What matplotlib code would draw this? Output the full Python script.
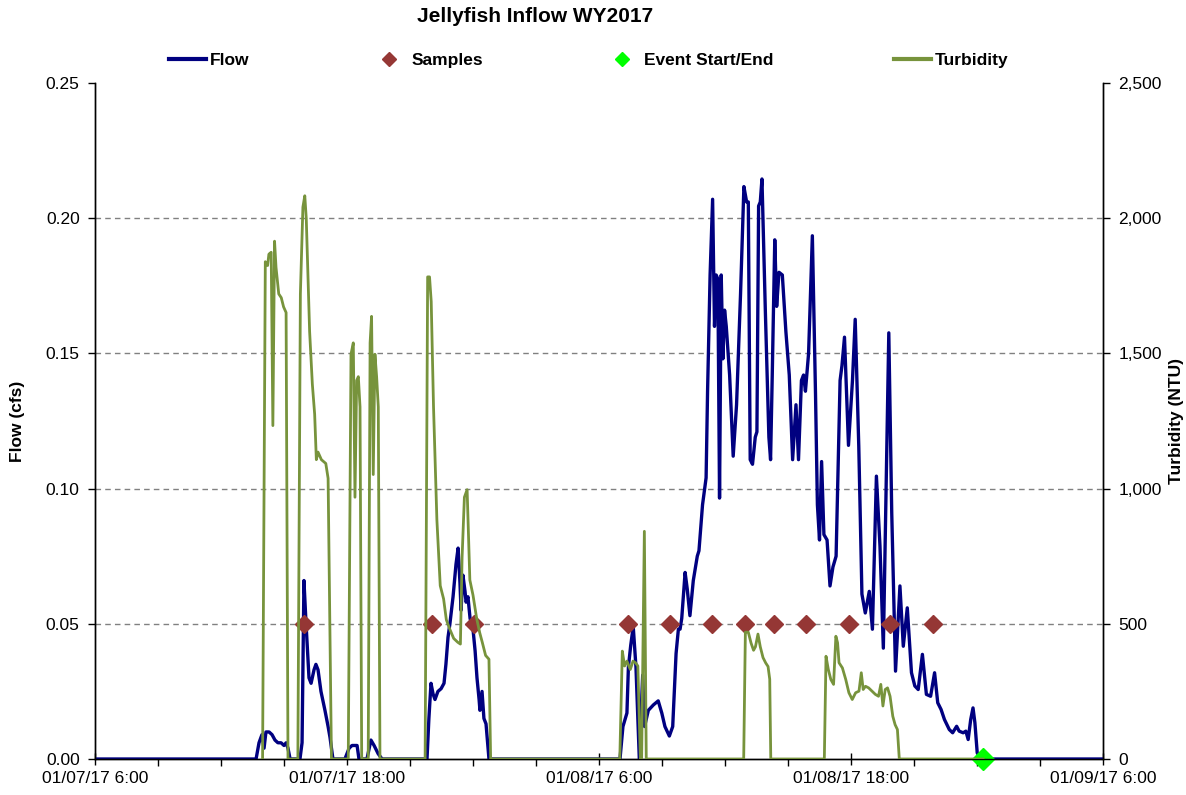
import datetime as dt
import numpy as np
import matplotlib
matplotlib.use("Agg")
import matplotlib.pyplot as plt
import matplotlib.dates as mdates
from matplotlib.lines import Line2D
from matplotlib.ticker import FuncFormatter

plt.rcParams['font.family'] = ['Liberation Sans', 'DejaVu Sans']

START = dt.datetime(2017, 1, 7, 6, 0)
END = dt.datetime(2017, 1, 9, 6, 0)

# ---- Flow (cfs): hours after 01/07/17 6:00 ----
flow_hours = [
    0.00, 7.67, 7.81, 7.95, 8.05, 8.14, 8.29, 8.43, 8.57, 8.71, 8.86, 9.00, 9.10, 9.19, 9.29,
    9.76, 9.86, 9.95, 10.05, 10.19, 10.29, 10.43, 10.52, 10.62, 10.76, 10.95, 11.10, 11.19, 11.33,
    11.90, 12.00, 12.10, 12.24, 12.48, 12.57, 12.95, 13.14, 13.29, 13.48, 13.67,
    15.81, 15.90, 16.00, 16.10, 16.19, 16.33, 16.48, 16.62, 16.71, 16.81, 16.90, 17.05, 17.19,
    17.29, 17.38, 17.43, 17.52, 17.62, 17.67, 17.76, 17.86, 18.00, 18.10, 18.19, 18.29, 18.33,
    18.43, 18.52, 18.62, 18.76,
    25.00, 25.14, 25.33, 25.40, 25.51, 25.63, 25.76, 25.92, 26.08, 26.17, 26.35, 26.59, 26.82,
    26.99, 27.14, 27.35, 27.51, 27.67, 27.78, 27.86, 27.94, 28.10, 28.20, 28.33, 28.49, 28.68,
    28.76, 28.93, 29.10, 29.17, 29.29, 29.41, 29.50, 29.58, 29.66, 29.74, 29.82, 29.90, 29.98,
    30.06, 30.22, 30.39, 30.55, 30.74, 30.90, 31.03, 31.11, 31.20, 31.31, 31.44, 31.52, 31.60,
    31.68, 31.76, 31.92, 32.09, 32.17, 32.25, 32.37, 32.46, 32.57, 32.73, 32.90, 33.06, 33.22,
    33.38, 33.50, 33.64, 33.74, 33.83, 33.98, 34.16, 34.31, 34.40, 34.50, 34.60, 34.71, 34.86,
    35.00, 35.14, 35.29, 35.48, 35.57, 35.69, 35.88, 36.07, 36.20, 36.37, 36.52, 36.68, 36.87,
    37.02, 37.21, 37.38, 37.54, 37.69, 37.80, 37.94, 38.12, 38.33, 38.49, 38.68, 38.88, 39.04,
    39.20, 39.40, 39.59, 39.79, 39.98, 40.13, 40.29, 40.45, 40.68, 40.84, 41.03, 41.15, 41.34,
    41.47, 41.58, 41.70, 41.81, 41.90, 42.01, 42.17, 48.00,
]
flow_cfs = [
    0, 0, 0.006, 0.009, 0.004, 0.010, 0.010, 0.009, 0.007, 0.006, 0.006, 0.005, 0.006, 0.004, 0,
    0, 0.006, 0.066, 0.050, 0.030, 0.028, 0.033, 0.035, 0.033, 0.025, 0.018, 0.012, 0.008, 0,
    0, 0.002, 0.004, 0.005, 0.005, 0, 0, 0.007, 0.005, 0.002, 0,
    0, 0.015, 0.028, 0.024, 0.022, 0.025, 0.026, 0.028, 0.035, 0.045, 0.050, 0.060, 0.072,
    0.078, 0.065, 0.055, 0.068, 0.062, 0.058, 0.060, 0.052, 0.048, 0.040, 0.030, 0.022, 0.018,
    0.025, 0.015, 0.013, 0,
    0, 0.012, 0.017, 0.034, 0.042, 0.049, 0.034, 0, 0.031, 0.012, 0.018, 0.020, 0.0215,
    0.017, 0.012, 0.0085, 0.012, 0.039, 0.048, 0.048, 0.052, 0.069, 0.063, 0.053, 0.066, 0.075,
    0.077, 0.094, 0.104, 0.136, 0.179, 0.207, 0.160, 0.179, 0.1775, 0.0965, 0.179, 0.148, 0.166,
    0.160, 0.142, 0.112, 0.131, 0.172, 0.2117, 0.206, 0.206, 0.1107, 0.109, 0.119, 0.121, 0.2045,
    0.206, 0.2145, 0.166, 0.119, 0.1107, 0.142, 0.192, 0.1674, 0.180, 0.179, 0.158, 0.142, 0.1107,
    0.131, 0.1107, 0.140, 0.142, 0.136, 0.150, 0.1935, 0.135, 0.094, 0.081, 0.110, 0.083, 0.081,
    0.064, 0.071, 0.075, 0.140, 0.1455, 0.156, 0.116, 0.140, 0.1626, 0.1157, 0.061, 0.054, 0.062,
    0.048, 0.1046, 0.0787, 0.041, 0.1096, 0.1576, 0.091, 0.0325, 0.064, 0.0417, 0.0559, 0.0319, 0.027,
    0.0257, 0.0387, 0.0239, 0.0232, 0.0319, 0.0208, 0.0183, 0.0146, 0.0109, 0.0097, 0.0121, 0.0103, 0.0097,
    0.0103, 0.0072, 0.0146, 0.0189, 0.0134, 0.0023, 0, 0,
]

# ---- Turbidity (NTU), recorded from the first pulse to the event end ----
turb_hours = [
    7.98, 8.11, 8.22, 8.28, 8.39, 8.47, 8.55, 8.62, 8.75, 8.87, 8.98, 9.10, 9.19,
    9.66, 9.78, 9.90, 9.99, 10.06, 10.22, 10.35, 10.46, 10.54, 10.62, 10.78, 10.99, 11.10, 11.26,
    12.06, 12.19, 12.30, 12.38, 12.46, 12.54, 12.62, 12.70,
    13.01, 13.10, 13.17, 13.25, 13.33, 13.41, 13.49, 13.57,
    15.72, 15.84, 15.93, 16.01, 16.12, 16.28, 16.44, 16.60, 16.73, 16.89, 17.08, 17.27, 17.40,
    17.48, 17.59, 17.72, 17.85, 18.00, 18.17, 18.32, 18.44, 18.60, 18.76, 18.84,
    24.99, 25.11, 25.22, 25.33, 25.49, 25.62, 25.74, 25.85, 25.97, 26.03, 26.16, 26.25,
    30.89, 30.97, 31.11, 31.24, 31.36, 31.45, 31.57, 31.68, 31.81, 31.94, 32.05, 32.13, 32.18,
    34.73, 34.81, 34.92, 35.04, 35.17, 35.28, 35.36, 35.43, 35.59, 35.75, 35.90, 36.06, 36.22,
    36.38, 36.49, 36.58, 36.69, 36.84, 37.00, 37.16, 37.31, 37.42, 37.52, 37.63, 37.74, 37.86,
    37.99, 38.10, 38.21, 38.30, 42.29,
]
turb_ntu = [
    0, 1839, 1825, 1867, 1874, 1233, 1915, 1818, 1720, 1706, 1672, 1651, 0,
    0, 1720, 2041, 2083, 1999, 1581, 1386, 1275, 1107, 1135, 1107, 1093, 1038, 0,
    0, 1497, 1539, 968, 1400, 1414, 1302, 0,
    0, 1539, 1637, 1052, 1497, 1414, 1302, 0,
    0, 1783, 1783, 1692, 1302, 885, 641, 592, 515, 481, 446, 432, 425,
    745, 968, 996, 662, 606, 522, 467, 432, 383, 369, 0,
    0, 399, 344, 362, 331, 362, 356, 344, 0, 0, 842, 0,
    0, 469, 469, 429, 402, 415, 462, 415, 375, 355, 342, 295, 0,
    0, 380, 331, 294, 276, 454, 430, 356, 337, 294, 245, 220, 245,
    251, 319, 257, 269, 263, 251, 239, 232, 276, 196, 257, 263, 232,
    158, 127, 109, 0, 0,
]

# ---- Samples and event markers ----
sample_hours = [9.95, 16.05, 18.05, 25.38, 27.38, 29.38, 30.95, 32.33, 33.86, 35.90, 37.86, 39.90]
sample_cfs = [0.05] * 12
event_hours = [42.29]
event_cfs = [0.0]

flow_ticks = [0.00, 0.05, 0.10, 0.15, 0.20, 0.25]
flow_labels = ['0.00', '0.05', '0.10', '0.15', '0.20', '0.25']
turb_ticks = [0, 500, 1000, 1500, 2000, 2500]
turb_labels = ['0', '500', '1,000', '1,500', '2,000', '2,500']


def to_dt(hours):
    return [START + dt.timedelta(hours=h) for h in hours]


NAVY = '#000080'
OLIVE = '#77933C'
SAMPLE_RED = '#953735'
EVENT_GREEN = '#00FF00'
FS = 12.5

fig = plt.figure(figsize=(11.86, 7.95), dpi=100)
L, R, B, T = 95 / 1186, 1103 / 1186, 1 - 759 / 795, 1 - 83 / 795
ax = fig.add_axes([L, B, R - L, T - B])
ax2 = ax.twinx()

ax.plot(to_dt(flow_hours), flow_cfs, color=NAVY, lw=2.4, solid_joinstyle='round', zorder=3)
ax.plot(to_dt(sample_hours), sample_cfs, ls='none', marker='D', ms=9.5, color=SAMPLE_RED,
        mec=SAMPLE_RED, zorder=4, clip_on=False)
ax.plot(to_dt(event_hours), event_cfs, ls='none', marker='D', ms=11, color=EVENT_GREEN,
        mec=EVENT_GREEN, zorder=6, clip_on=False)
ax2.plot(to_dt(turb_hours), turb_ntu, color=OLIVE, lw=2.0, solid_joinstyle='round', zorder=3)

ax.set_xlim(START, END)
ax.set_ylim(0, 0.25)
ax2.set_ylim(0, 2500)
ax.set_yticks(flow_ticks, flow_labels)
ax2.set_yticks(turb_ticks, turb_labels)

ax.xaxis.set_major_locator(mdates.HourLocator(byhour=[6, 18]))
ax.xaxis.set_minor_locator(mdates.HourLocator(byhour=range(0, 24, 3)))


def fmt_date(v, p):
    d = mdates.num2date(v)
    return f"{d:%m/%d/%y} {d.hour}:{d:%M}"


ax.xaxis.set_major_formatter(FuncFormatter(fmt_date))

for a in (ax, ax2):
    a.spines['top'].set_visible(False)
    for s in a.spines.values():
        s.set_color('black')
        s.set_linewidth(1.0)

ax.tick_params(axis='x', which='major', direction='inout', length=9, width=1, labelsize=FS, pad=4)
ax.tick_params(axis='x', which='minor', direction='out', length=5, width=1)
ax.tick_params(axis='y', direction='out', length=5, width=1, labelsize=FS, pad=6)
ax2.tick_params(axis='y', direction='out', length=5, width=1, labelsize=FS, pad=6)

for v in [0.05, 0.10, 0.15, 0.20]:
    ax.axhline(v, color='#808080', lw=1.0, ls=(0, (4, 3)), zorder=1)

fig.text(535 / 1186, 1 - 17 / 795, 'Jellyfish Inflow WY2017', ha='center', va='center',
         fontsize=15, fontweight='bold')
fig.text(18 / 1186, 1 - 421 / 795, 'Flow (cfs)', rotation=90, ha='center', va='center',
         fontsize=FS, fontweight='bold')
fig.text(1176 / 1186, 1 - 421 / 795, 'Turbidity (NTU)', rotation=90, ha='center', va='center',
         fontsize=FS, fontweight='bold')

handles = [
    Line2D([], [], color=NAVY, lw=3),
    Line2D([], [], ls='none', marker='D', ms=7, color=SAMPLE_RED),
    Line2D([], [], ls='none', marker='D', ms=7, color=EVENT_GREEN),
    Line2D([], [], color=OLIVE, lw=3),
]
labels = ['Flow', 'Samples', 'Event Start/End', 'Turbidity']
leg = fig.legend(handles, labels, loc='center', bbox_to_anchor=(589 / 1186, 1 - 60 / 795), ncol=4,
                 frameon=False, handlelength=2.1, handletextpad=0.25, columnspacing=6.95,
                 prop={'size': FS, 'weight': 'bold'})

fig.savefig('out.png', dpi=100)
